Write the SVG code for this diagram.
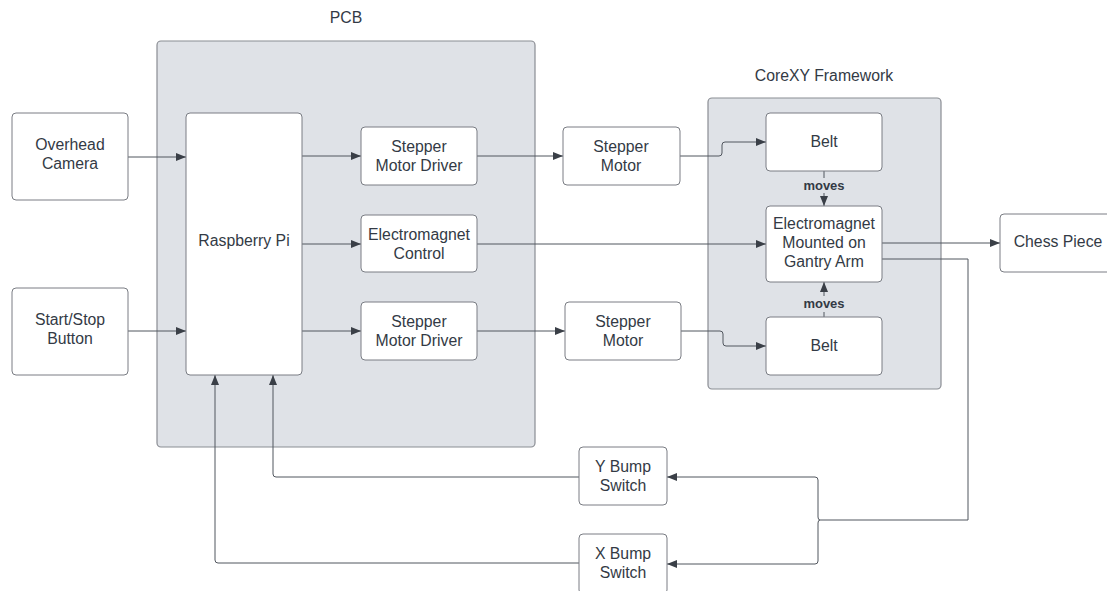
<svg xmlns="http://www.w3.org/2000/svg" width="1107" height="591" viewBox="0 0 1107 591">
<defs>
<style>
text{font-family:"Liberation Sans",Arial,sans-serif;font-size:15.8px;fill:#333a45;text-anchor:middle}
.node{fill:#ffffff;stroke:#7a7d84;stroke-width:1}
.cont{fill:#dfe2e7;stroke:#8a8d93;stroke-width:1.2}
.c{fill:none;stroke:#51565e;stroke-width:1}
.lbl{font-size:13px;font-weight:bold}
</style>
<marker id="ah" viewBox="0 0 10 10" refX="10" refY="5" markerWidth="10" markerHeight="10" markerUnits="userSpaceOnUse" orient="auto">
<path d="M0,1 L10,5 L0,9 z" fill="#3a3f47"/>
</marker>
</defs>
<rect width="1107" height="591" fill="#ffffff"/>

<g id="pcb">
<rect class="cont" x="157" y="41" width="378" height="406" rx="4"/>
<text x="346" y="23">PCB</text>
</g>
<g id="corexy">
<rect class="cont" x="708" y="98" width="233" height="291" rx="4"/>
<text x="824" y="81">CoreXY Framework</text>
</g>

<g id="connectors">
<path class="c" d="M128,157 H186" marker-end="url(#ah)"/>
<path class="c" d="M128,331 H186" marker-end="url(#ah)"/>
<path class="c" d="M302,156 H361" marker-end="url(#ah)"/>
<path class="c" d="M302,244 H361" marker-end="url(#ah)"/>
<path class="c" d="M302,331 H361" marker-end="url(#ah)"/>
<path class="c" d="M477,156 H563" marker-end="url(#ah)"/>
<path class="c" d="M477,331 H565" marker-end="url(#ah)"/>
<path class="c" d="M680,156 H719 Q722,156 722,153 V145 Q722,142 725,142 H766" marker-end="url(#ah)"/>
<path class="c" d="M681,331 H720 Q723,331 723,334 V343 Q723,346 726,346 H766" marker-end="url(#ah)"/>
<path class="c" d="M477,244 H766" marker-end="url(#ah)"/>
<path class="c" d="M824,171 V178"/>
<path class="c" d="M824,193 V206" marker-end="url(#ah)"/>
<path class="c" d="M824,317 V312"/>
<path class="c" d="M824,296 V282" marker-end="url(#ah)"/>
<path class="c" d="M882,243 H1000" marker-end="url(#ah)"/>
<path class="c" d="M882,259 H968 V520 H820"/>
<path class="c" d="M820,520 Q818,520 818,517 V480 Q818,477 815,477 H667" marker-end="url(#ah)"/>
<path class="c" d="M820,520 Q818,520 818,523 V561 Q818,564 815,564 H667" marker-end="url(#ah)"/>
<path class="c" d="M579,477 H276 Q273,477 273,474 V375" marker-end="url(#ah)"/>
<path class="c" d="M579,563 H218 Q215,563 215,560 V375" marker-end="url(#ah)"/>
<text class="lbl" x="824" y="190">moves</text>
<text class="lbl" x="824" y="308">moves</text>
</g>

<g id="overhead-camera">
<rect class="node" x="12" y="113" width="116" height="87" rx="4"/>
<text x="70" y="150">Overhead</text>
<text x="70" y="169">Camera</text>
</g>
<g id="start-stop">
<rect class="node" x="12" y="288" width="116" height="87" rx="4"/>
<text x="70" y="325">Start/Stop</text>
<text x="70" y="344">Button</text>
</g>
<g id="raspberry-pi">
<rect class="node" x="186" y="113" width="116" height="262" rx="4"/>
<text x="244" y="246">Raspberry Pi</text>
</g>
<g id="smd-top">
<rect class="node" x="361" y="127" width="116" height="58" rx="4"/>
<text x="419" y="152">Stepper</text>
<text x="419" y="171">Motor Driver</text>
</g>
<g id="em-control">
<rect class="node" x="361" y="215" width="116" height="57" rx="4"/>
<text x="419" y="240">Electromagnet</text>
<text x="419" y="259">Control</text>
</g>
<g id="smd-bottom">
<rect class="node" x="361" y="302" width="116" height="58" rx="4"/>
<text x="419" y="327">Stepper</text>
<text x="419" y="346">Motor Driver</text>
</g>
<g id="sm-top">
<rect class="node" x="563" y="127" width="117" height="58" rx="4"/>
<text x="621" y="152">Stepper</text>
<text x="621" y="171">Motor</text>
</g>
<g id="sm-bottom">
<rect class="node" x="565" y="302" width="116" height="58" rx="4"/>
<text x="623" y="327">Stepper</text>
<text x="623" y="346">Motor</text>
</g>
<g id="belt-top">
<rect class="node" x="766" y="113" width="116" height="58" rx="4"/>
<text x="824" y="147">Belt</text>
</g>
<g id="emga">
<rect class="node" x="766" y="206" width="116" height="76" rx="4"/>
<text x="824" y="229">Electromagnet</text>
<text x="824" y="248">Mounted on</text>
<text x="824" y="267">Gantry Arm</text>
</g>
<g id="belt-bottom">
<rect class="node" x="766" y="317" width="116" height="58" rx="4"/>
<text x="824" y="351">Belt</text>
</g>
<g id="chess-piece">
<rect class="node" x="1000" y="214" width="116" height="58" rx="4"/>
<text x="1058" y="247">Chess Piece</text>
</g>
<g id="y-bump">
<rect class="node" x="579" y="447" width="88" height="58" rx="4"/>
<text x="623" y="472">Y Bump</text>
<text x="623" y="491">Switch</text>
</g>
<g id="x-bump">
<rect class="node" x="579" y="534" width="88" height="60" rx="4"/>
<text x="623" y="559">X Bump</text>
<text x="623" y="578">Switch</text>
</g>
</svg>
